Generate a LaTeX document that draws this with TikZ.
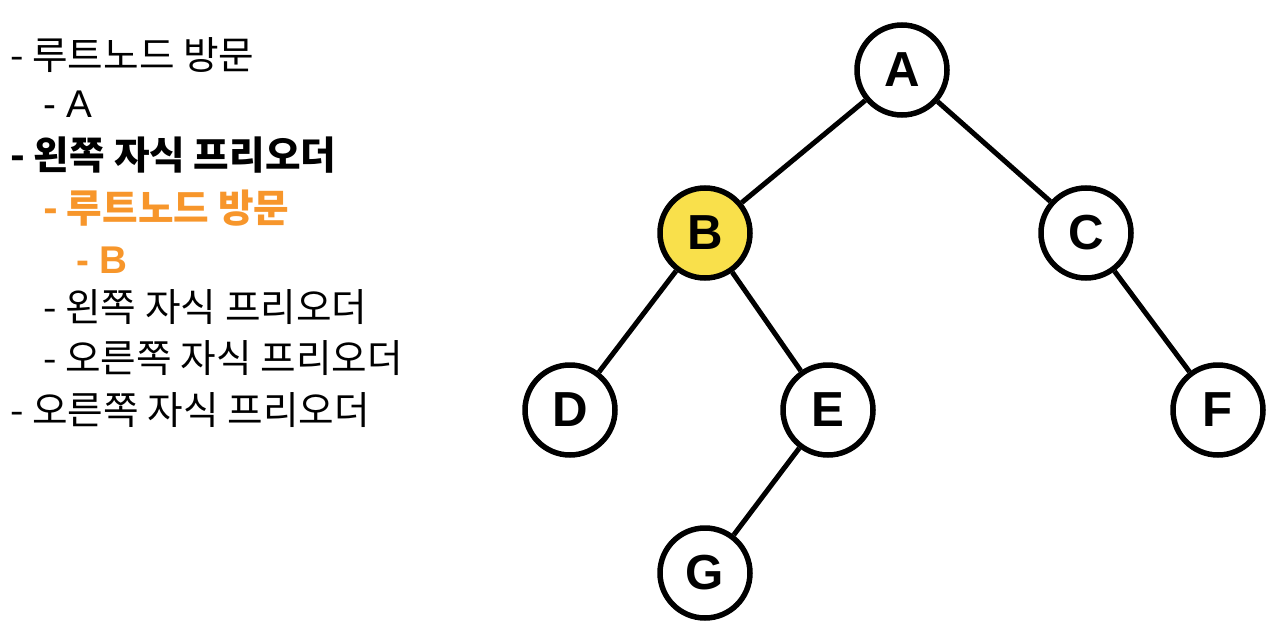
\documentclass[tikz,border=0pt]{standalone}
\usepackage{fontspec}
\setmainfont{Noto Sans CJK KR}
\newfontfamily\letterfont{Liberation Sans}
\usepackage{xcolor}
\definecolor{visityellow}{HTML}{F9E04B}
\definecolor{steporange}{HTML}{F7962B}
\tikzset{
  treenode/.style={circle,draw=black,line width=0.11cm,fill=white,minimum size=1.8cm,inner sep=0pt,font=\letterfont\bfseries\fontsize{28}{30}\selectfont},
  treeedge/.style={line width=0.1cm},
  steptext/.style={anchor=west,inner sep=0pt,font=\fontsize{22}{26}\selectfont}
}
\begin{document}
\begin{tikzpicture}[x=1cm,y=1cm]
\useasboundingbox (0,0) rectangle (25.6,-12.76);
% preorder steps
\node[steptext] (s1) at (0.2,-1.10) {- 루트노드 방문};
\node[steptext,font=\letterfont\fontsize{22}{26}\selectfont] (s2) at (0.86,-2.08) {- A};
\node[steptext,font=\fontsize{22}{26}\selectfont\bfseries] (s3) at (0.2,-3.10) {- 왼쪽 자식 프리오더};
\node[steptext,font=\fontsize{22}{26}\selectfont\bfseries,text=steporange] (s4) at (0.86,-4.16) {- 루트노드 방문};
\node[steptext,font=\letterfont\fontsize{22}{26}\selectfont\bfseries,text=steporange] (s5) at (1.52,-5.20) {- B};
\node[steptext] (s6) at (0.86,-6.14) {- 왼쪽 자식 프리오더};
\node[steptext] (s7) at (0.86,-7.16) {- 오른쪽 자식 프리오더};
\node[steptext] (s8) at (0.2,-8.20) {- 오른쪽 자식 프리오더};
% tree
\node[treenode] (A) at (18.04,-1.40) {A};
\node[treenode,fill=visityellow] (B) at (14.10,-4.66) {B};
\node[treenode] (C) at (21.72,-4.66) {C};
\node[treenode] (D) at (11.40,-8.20) {D};
\node[treenode] (E) at (16.56,-8.20) {E};
\node[treenode] (F) at (24.36,-8.20) {F};
\node[treenode] (G) at (14.10,-11.46) {G};
\draw[treeedge] (A) -- (B);
\draw[treeedge] (A) -- (C);
\draw[treeedge] (B) -- (D);
\draw[treeedge] (B) -- (E);
\draw[treeedge] (C) -- (F);
\draw[treeedge] (E) -- (G);
\end{tikzpicture}
\end{document}
